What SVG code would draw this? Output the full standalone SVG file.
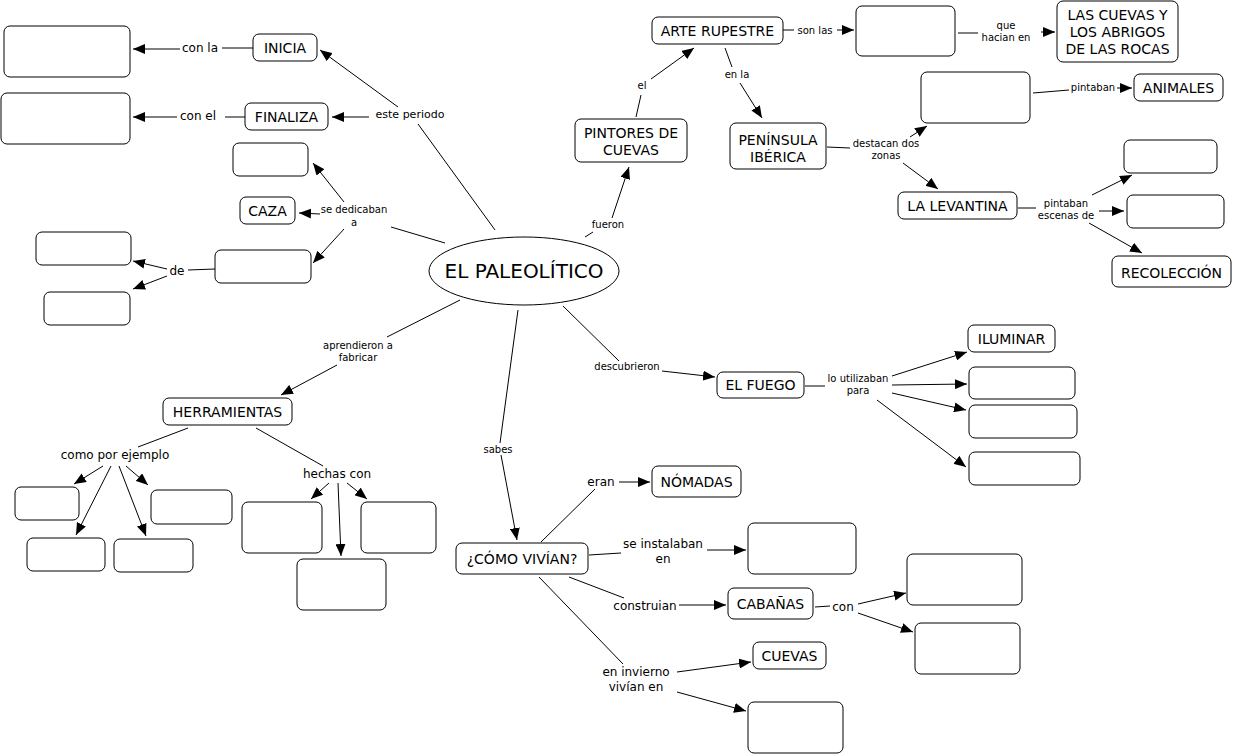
<svg xmlns="http://www.w3.org/2000/svg" width="1233" height="755" viewBox="0 0 1233 755">
<style>
.n rect{fill:#fff;stroke:#000;stroke-width:1}
.n text,.l text{font-family:"DejaVu Sans",Verdana,sans-serif;fill:#000;text-anchor:middle}
.n text{font-size:14px}
.l text.m{font-size:12px}
.l text.s{font-size:10px}
.c line{stroke:#000;stroke-width:1}
.c line.a{marker-end:url(#ah)}
</style>
<defs>
<marker id="ah" markerUnits="userSpaceOnUse" markerWidth="13" markerHeight="10" refX="12" refY="5" orient="auto"><path d="M0,0 L12,5 L0,10 z" fill="#000"/></marker>
</defs>
<rect width="1233" height="755" fill="#fff"/>
<g class="c" id="connectors">
<!-- este periodo -->
<line x1="495" y1="230" x2="418" y2="124"/>
<line class="a" x1="398" y1="107" x2="320" y2="50"/>
<line class="a" x1="369" y1="117" x2="332" y2="117"/>
<line x1="253" y1="48" x2="222" y2="48"/>
<line class="a" x1="180" y1="49" x2="133" y2="49"/>
<line x1="245" y1="117" x2="225" y2="117"/>
<line class="a" x1="177" y1="117" x2="133" y2="117"/>
<!-- se dedicaban a -->
<line x1="445" y1="243" x2="391" y2="227"/>
<line class="a" x1="344" y1="202" x2="313" y2="163"/>
<line class="a" x1="320" y1="214" x2="299" y2="213"/>
<line class="a" x1="344" y1="229" x2="313" y2="263"/>
<line x1="215" y1="269" x2="188" y2="270"/>
<line class="a" x1="167" y1="269" x2="133" y2="261"/>
<line class="a" x1="167" y1="276" x2="133" y2="289"/>
<!-- fueron / el / arte rupestre -->
<line x1="585" y1="237" x2="593" y2="232"/>
<line class="a" x1="612" y1="218" x2="629" y2="167"/>
<line x1="636" y1="117" x2="641" y2="95"/>
<line class="a" x1="651" y1="79" x2="694" y2="48"/>
<line x1="783" y1="30" x2="794" y2="30"/>
<line class="a" x1="837" y1="30" x2="854" y2="30"/>
<line x1="958" y1="33" x2="978" y2="33"/>
<line class="a" x1="1041" y1="32" x2="1055" y2="32"/>
<line x1="725" y1="48" x2="732" y2="67"/>
<line class="a" x1="740" y1="83" x2="762" y2="118"/>
<line x1="827" y1="147" x2="850" y2="148"/>
<line class="a" x1="910" y1="137" x2="927" y2="126"/>
<line class="a" x1="903" y1="163" x2="938" y2="189"/>
<line x1="1033" y1="93" x2="1069" y2="90"/>
<line class="a" x1="1117" y1="88" x2="1132" y2="88"/>
<line x1="1018" y1="208" x2="1036" y2="208"/>
<line class="a" x1="1092" y1="195" x2="1132" y2="175"/>
<line class="a" x1="1099" y1="211" x2="1124" y2="211"/>
<line class="a" x1="1089" y1="223" x2="1142" y2="253"/>
<!-- aprendieron a fabricar -->
<line x1="460" y1="300" x2="387" y2="337"/>
<line class="a" x1="337" y1="365" x2="281" y2="395"/>
<line x1="188" y1="428" x2="138" y2="447"/>
<line class="a" x1="103" y1="466" x2="74" y2="484"/>
<line class="a" x1="111" y1="466" x2="76" y2="535"/>
<line class="a" x1="119" y1="466" x2="146" y2="536"/>
<line class="a" x1="126" y1="466" x2="148" y2="485"/>
<line x1="256" y1="428" x2="323" y2="466"/>
<line class="a" x1="329" y1="483" x2="311" y2="499"/>
<line class="a" x1="338" y1="483" x2="341" y2="556"/>
<line class="a" x1="347" y1="483" x2="367" y2="499"/>
<!-- descubrieron -->
<line x1="563" y1="306" x2="619" y2="361"/>
<line class="a" x1="662" y1="371" x2="715" y2="377"/>
<line x1="805" y1="386" x2="825" y2="386"/>
<line class="a" x1="892" y1="376" x2="967" y2="352"/>
<line class="a" x1="892" y1="385" x2="967" y2="384"/>
<line class="a" x1="892" y1="393" x2="966" y2="410"/>
<line class="a" x1="877" y1="400" x2="966" y2="467"/>
<!-- sabes -->
<line x1="518" y1="310" x2="500" y2="443"/>
<line class="a" x1="501" y1="455" x2="517" y2="540"/>
<line x1="541" y1="542" x2="595" y2="489"/>
<line class="a" x1="619" y1="482" x2="650" y2="482"/>
<line x1="589" y1="555" x2="621" y2="553"/>
<line class="a" x1="707" y1="550" x2="746" y2="550"/>
<line x1="569" y1="577" x2="624" y2="598"/>
<line class="a" x1="679" y1="605" x2="726" y2="605"/>
<line x1="815" y1="607" x2="830" y2="606"/>
<line class="a" x1="858" y1="604" x2="906" y2="593"/>
<line class="a" x1="858" y1="613" x2="913" y2="632"/>
<line x1="539" y1="577" x2="623" y2="664"/>
<line class="a" x1="677" y1="672" x2="751" y2="662"/>
<line class="a" x1="677" y1="692" x2="746" y2="711"/>
</g>
<g class="l" id="labels">
<text class="m" x="200" y="52">con la</text>
<text class="m" x="198" y="120">con el</text>
<text class="m" x="410" y="118" style="font-size:11px">este periodo</text>
<text class="s" x="354" y="213">se dedicaban</text>
<text class="s" x="354" y="226">a</text>
<text class="m" x="177" y="275">de</text>
<text class="s" x="608" y="228">fueron</text>
<text class="s" x="642" y="89">el</text>
<text class="s" x="815" y="34">son las</text>
<text class="s" x="1006" y="29">que</text>
<text class="s" x="1006" y="41">hacian en</text>
<text class="s" x="737" y="78">en la</text>
<text class="s" x="886" y="147">destacan dos</text>
<text class="s" x="886" y="159">zonas</text>
<text class="s" x="1093" y="91">pintaban</text>
<text class="s" x="1066" y="207">pintaban</text>
<text class="s" x="1066" y="219">escenas de</text>
<text class="s" x="358" y="349">aprendieron a</text>
<text class="s" x="358" y="361">fabricar</text>
<text class="m" x="115" y="459">como por ejemplo</text>
<text class="m" x="337" y="478">hechas con</text>
<text class="s" x="627" y="370">descubrieron</text>
<text class="s" x="858" y="382">lo utilizaban</text>
<text class="s" x="858" y="394">para</text>
<text class="s" x="498" y="453">sabes</text>
<text class="m" x="601" y="486">eran</text>
<text class="m" x="663" y="548">se instalaban</text>
<text class="m" x="663" y="563">en</text>
<text class="m" x="645" y="610">construian</text>
<text class="m" x="843" y="611">con</text>
<text class="m" x="636" y="676">en invierno</text>
<text class="m" x="636" y="691">vivían en</text>
</g>
<g class="n" id="n-center"><ellipse cx="524" cy="271" rx="95" ry="34" fill="#fff" stroke="#000"/><text x="524" y="278" style="font-size:20px">EL PALEOLÍTICO</text></g>
<g class="n" id="n-inicia"><rect x="253" y="34" width="64" height="27" rx="6"/><text x="285" y="52.5">INICIA</text></g>
<g class="n" id="n-e1"><rect x="4" y="26" width="126" height="51" rx="6"/></g>
<g class="n" id="n-finaliza"><rect x="245" y="103" width="83" height="27" rx="6"/><text x="286.5" y="121.5">FINALIZA</text></g>
<g class="n" id="n-e2"><rect x="1" y="93" width="129" height="51" rx="6"/></g>
<g class="n" id="n-e3"><rect x="233" y="143" width="75" height="33" rx="6"/></g>
<g class="n" id="n-caza"><rect x="240" y="197" width="55" height="27" rx="6"/><text x="267.5" y="215.5">CAZA</text></g>
<g class="n" id="n-e4"><rect x="215" y="250" width="96" height="33" rx="6"/></g>
<g class="n" id="n-e5"><rect x="36" y="232" width="95" height="33" rx="6"/></g>
<g class="n" id="n-e6"><rect x="44" y="292" width="86" height="33" rx="6"/></g>
<g class="n" id="n-arte"><rect x="652" y="17" width="131" height="27" rx="6"/><text x="717.5" y="35.5">ARTE RUPESTRE</text></g>
<g class="n" id="n-ea"><rect x="856" y="6" width="99" height="50" rx="6"/></g>
<g class="n" id="n-lascuevas"><rect x="1057" y="1" width="121" height="61" rx="6"/><text x="1117.5" y="20">LAS CUEVAS Y</text><text x="1117.5" y="37">LOS ABRIGOS</text><text x="1117.5" y="54">DE LAS ROCAS</text></g>
<g class="n" id="n-pintores"><rect x="575" y="119" width="112" height="43" rx="6"/><text x="631" y="138">PINTORES DE</text><text x="631" y="155">CUEVAS</text></g>
<g class="n" id="n-peninsula"><rect x="730" y="123" width="96" height="46" rx="6"/><text x="778" y="145">PENÍNSULA</text><text x="778" y="162">IBÉRICA</text></g>
<g class="n" id="n-eb"><rect x="921" y="72" width="109" height="51" rx="6"/></g>
<g class="n" id="n-animales"><rect x="1134" y="74" width="89" height="27" rx="6"/><text x="1178.5" y="92.5">ANIMALES</text></g>
<g class="n" id="n-levantina"><rect x="898" y="192" width="119" height="27" rx="6"/><text x="957.5" y="210.5">LA LEVANTINA</text></g>
<g class="n" id="n-ec"><rect x="1124" y="140" width="93" height="33" rx="6"/></g>
<g class="n" id="n-ed"><rect x="1127" y="195" width="97" height="33" rx="6"/></g>
<g class="n" id="n-recoleccion"><rect x="1112" y="256" width="119" height="31" rx="6"/><text x="1171.5" y="278">RECOLECCIÓN</text></g>
<g class="n" id="n-herramientas"><rect x="163" y="398" width="129" height="27" rx="6"/><text x="227.5" y="416.5">HERRAMIENTAS</text></g>
<g class="n" id="n-t1"><rect x="15" y="487" width="64" height="33" rx="6"/></g>
<g class="n" id="n-t2"><rect x="151" y="490" width="81" height="34" rx="6"/></g>
<g class="n" id="n-t3"><rect x="27" y="538" width="78" height="33" rx="6"/></g>
<g class="n" id="n-t4"><rect x="114" y="539" width="79" height="33" rx="6"/></g>
<g class="n" id="n-h1"><rect x="242" y="502" width="80" height="51" rx="6"/></g>
<g class="n" id="n-h2"><rect x="361" y="502" width="75" height="51" rx="6"/></g>
<g class="n" id="n-h3"><rect x="297" y="559" width="89" height="51" rx="6"/></g>
<g class="n" id="n-fuego"><rect x="717" y="372" width="87" height="26" rx="6"/><text x="760.5" y="390">EL FUEGO</text></g>
<g class="n" id="n-iluminar"><rect x="968" y="325" width="87" height="27" rx="6"/><text x="1011.5" y="343.5">ILUMINAR</text></g>
<g class="n" id="n-f1"><rect x="969" y="367" width="106" height="32" rx="6"/></g>
<g class="n" id="n-f2"><rect x="969" y="405" width="108" height="33" rx="6"/></g>
<g class="n" id="n-f3"><rect x="969" y="452" width="111" height="33" rx="6"/></g>
<g class="n" id="n-como"><rect x="456" y="543" width="132" height="31" rx="6"/><text x="522" y="563.5">¿CÓMO VIVÍAN?</text></g>
<g class="n" id="n-nomadas"><rect x="652" y="466" width="89" height="31" rx="6"/><text x="696.5" y="486.5">NÓMADAS</text></g>
<g class="n" id="n-i1"><rect x="748" y="523" width="108" height="51" rx="6"/></g>
<g class="n" id="n-cabanas"><rect x="728" y="588" width="85" height="31" rx="6"/><text x="770.5" y="608.5">CABAÑAS</text></g>
<g class="n" id="n-c1"><rect x="907" y="554" width="115" height="51" rx="6"/></g>
<g class="n" id="n-c2"><rect x="915" y="623" width="105" height="51" rx="6"/></g>
<g class="n" id="n-cuevas"><rect x="753" y="642" width="73" height="27" rx="6"/><text x="789.5" y="660.5">CUEVAS</text></g>
<g class="n" id="n-w1"><rect x="748" y="702" width="95" height="51" rx="6"/></g>
</svg>
